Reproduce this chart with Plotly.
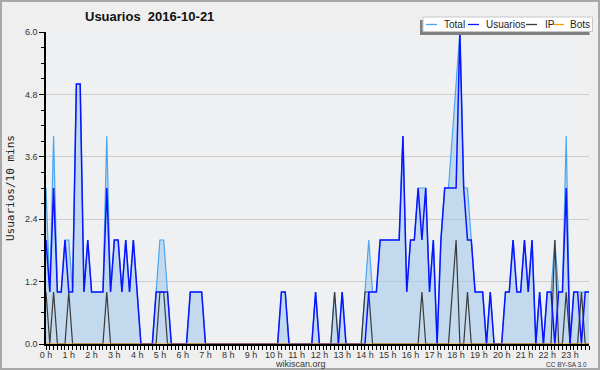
import plotly.graph_objects as go

# ---- data (10-minute intervals, 2016-10-21) ----
hour_labels = [f"{h} h" for h in range(24)]
hour_ticks = list(range(24))
slots = list(range(144))  # index of 10-minute slot

total = [3,1,4,1,1,2,2,1,5,5, 1,2,1,1,1,1,4,1,2,2, 1,2,1,2,1,0,0,0,0,1,
         2,2,1,0,0,0,0,0,1,1, 1,1,0,0,0,0,0,0,0,0, 0,0,0,0,0,0,0,0,0,0,
         0,0,1,1,0,0,0,0,0,0, 0,1,0,0,0,0,1,0,1,0, 0,0,0,0,1,2,1,1,2,2,
         2,2,2,2,4,1,2,2,3,3, 3,1,2,0,2,3,3,4,5,6, 3,3,2,1,1,1,0,1,0,0,
         0,1,1,2,1,1,2,1,2,0, 1,0,1,1,2,1,1,4,0,1, 1,1,1,1]
usuarios = [2,1,3,1,1,2,1,1,5,5, 1,2,1,1,1,1,3,1,2,2, 1,2,1,2,1,0,0,0,0,1,
            1,1,1,0,0,0,0,0,1,1, 1,1,0,0,0,0,0,0,0,0, 0,0,0,0,0,0,0,0,0,0,
            0,0,1,1,0,0,0,0,0,0, 0,1,0,0,0,0,0,0,1,0, 0,0,0,0,0,1,1,1,2,2,
            2,2,2,2,4,1,2,2,3,2, 3,1,2,0,2,3,3,3,3,6, 3,2,2,1,1,1,0,1,0,0,
            0,1,1,2,1,1,2,1,2,0, 1,0,1,1,0,1,1,3,0,1, 1,0,1,1]
ip = [1,0,1,0,0,0,1,0,0,0, 0,0,0,0,0,0,1,0,0,0, 0,0,0,0,0,0,0,0,0,0,
      1,1,0,0,0,0,0,0,0,0, 0,0,0,0,0,0,0,0,0,0, 0,0,0,0,0,0,0,0,0,0,
      0,0,0,0,0,0,0,0,0,0, 0,0,0,0,0,0,1,0,0,0, 0,0,0,0,1,1,0,0,0,0,
      0,0,0,0,0,0,0,0,0,1, 0,0,0,0,0,0,0,1,2,0, 0,1,0,0,0,0,0,0,0,0,
      0,0,0,0,0,0,0,0,0,0, 0,0,0,0,2,0,0,1,0,0, 0,1,0,0]
bots = [0] * 144

x_hours = [s / 6 for s in slots]

C_TOTAL = "#4aa6f0"
C_FILL = "rgba(160,200,235,0.55)"
C_USER = "#0a14ff"
C_IP = "#3a3a3a"
C_BOTS = "#ff9a00"

fig = go.Figure()
fig.add_trace(go.Scatter(x=x_hours, y=total, mode="lines", name="Total",
                         line=dict(color=C_TOTAL, width=1.2), fill="tozeroy",
                         fillcolor=C_FILL, showlegend=False))
fig.add_trace(go.Scatter(x=x_hours, y=ip, mode="lines", name="IP",
                         line=dict(color=C_IP, width=1.2), showlegend=False))
fig.add_trace(go.Scatter(x=x_hours, y=usuarios, mode="lines", name="Usuarios",
                         line=dict(color=C_USER, width=1.5), showlegend=False))
fig.add_trace(go.Scatter(x=x_hours, y=bots, mode="lines", name="Bots",
                         line=dict(color=C_BOTS, width=1), showlegend=False))

# plot area geometry (pixels)
L, R, T, B = 46, 589, 32, 344
W, H = R - L, B - T

def px(x):
    return (x - L) / W

def py(y):
    return (B - y) / H

shapes = []
annotations = []

# outer frame
shapes.append(dict(type="rect", xref="paper", yref="paper",
                   x0=px(1), x1=px(599), y0=py(369), y1=py(1),
                   line=dict(color="#a8a8a8", width=2), fillcolor="rgba(0,0,0,0)",
                   layer="above"))

# custom legend (shadow + box)
shapes.append(dict(type="rect", xref="paper", yref="paper",
                   x0=px(420), x1=px(589.5), y0=py(35), y1=py(20),
                   line=dict(width=0), fillcolor="#808080", layer="above"))
shapes.append(dict(type="rect", xref="paper", yref="paper",
                   x0=px(423), x1=px(592.5), y0=py(31.5), y1=py(17),
                   line=dict(color="#c8c8c8", width=1), fillcolor="#ffffff",
                   layer="above"))
legend_items = [("Total", C_TOTAL, 426, 441.5),
                ("Usuarios", C_USER, 468, 484),
                ("IP", C_IP, 526, 542.5),
                ("Bots", C_BOTS, 553, 568)]
for name, col, lx, tx in legend_items:
    shapes.append(dict(type="line", xref="paper", yref="paper",
                       x0=px(lx), x1=px(lx + 11), y0=py(24.5), y1=py(24.5),
                       line=dict(color=col, width=1.3), layer="above"))
    annotations.append(dict(text=name, xref="paper", yref="paper",
                            x=px(tx), y=py(24.5), xanchor="left", yanchor="middle",
                            showarrow=False,
                            font=dict(family="Liberation Sans", size=10, color="#222")))

# y-axis title
annotations.append(dict(text="Usuarios/10 mins", xref="paper", yref="paper",
                        x=px(10), y=py(188), textangle=-90, showarrow=False,
                        xanchor="center", yanchor="middle",
                        font=dict(family="DejaVu Sans Mono", size=11, color="#222")))
# footer texts
annotations.append(dict(text="wikiscan.org", xref="paper", yref="paper",
                        x=px(300), y=py(364), showarrow=False,
                        xanchor="center", yanchor="middle",
                        font=dict(family="Liberation Sans", size=9, color="#333")))
annotations.append(dict(text="CC BY-SA 3.0", xref="paper", yref="paper",
                        x=px(589), y=py(364), showarrow=False,
                        xanchor="right", yanchor="middle",
                        font=dict(family="Liberation Sans", size=6.5, color="#333")))

fig.update_layout(
    width=600, height=370,
    margin=dict(l=L, r=600 - R, t=T, b=370 - B, pad=0),
    paper_bgcolor="#efefef", plot_bgcolor="#eef0f2",
    title=dict(text="Usuarios\u00a0\u00a02016-10-21", x=85 / 600, xref="container",
               xanchor="left", y=1 - 16.5 / 370, yref="container", yanchor="middle",
               font=dict(family="Liberation Sans", size=13, color="#111", weight="bold")),
    showlegend=False,
    shapes=shapes, annotations=annotations,
    xaxis=dict(range=[0, 143 / 6], tickmode="array", tickvals=hour_ticks,
               ticktext=hour_labels, ticks="outside", ticklen=4, tickcolor="#000",
               tickwidth=1, showgrid=False, zeroline=False, showline=True,
               linecolor="#000", linewidth=2, ticklabelstandoff=-3,
               tickfont=dict(family="Liberation Sans", size=9, color="#333"),
               minor=dict(tickmode="linear", tick0=0, dtick=1 / 6, ticks="outside",
                          ticklen=4, tickcolor="#000", showgrid=False)),
    yaxis=dict(range=[0, 6], tickmode="linear", tick0=0, dtick=1.2, tickformat=".1f",
               ticks="outside", ticklen=5, tickcolor="#000", showgrid=True,
               gridcolor="#cdcdcd", gridwidth=1, zeroline=False, showline=True,
               linecolor="#000", linewidth=1.5,
               tickfont=dict(family="Liberation Sans", size=9, color="#333"),
               minor=dict(tickmode="linear", tick0=0, dtick=0.3, ticks="outside",
                          ticklen=3, tickcolor="#000", showgrid=False)),
)

fig.write_html("out.html", config={"displayModeBar": False},
               post_script="document.body.style.margin='0';document.body.style.padding='0';")
